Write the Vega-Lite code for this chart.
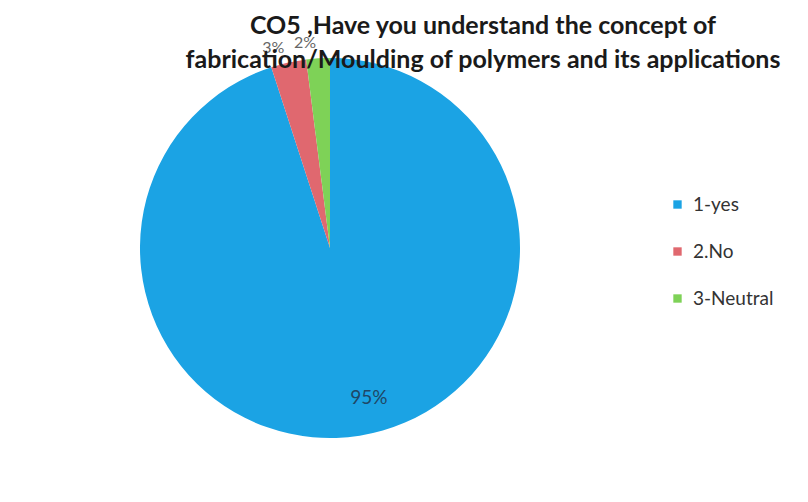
{
  "$schema": "https://vega.github.io/schema/vega-lite/v6.json",
  "width": 660,
  "height": 496,
  "autosize": "none",
  "padding": {"left": 0, "top": 0, "right": 148, "bottom": 6},
  "background": "white",
  "config": {"view": {"stroke": null}},
  "title": {
    "text": ["CO5 ,Have you understand the concept of", "fabrication/Moulding of polymers and its applications"],
    "anchor": "middle",
    "frame": "group",
    "font": "Lato",
    "fontSize": 25,
    "fontWeight": "bold",
    "color": "#1a1a1a",
    "lineHeight": 34,
    "baseline": "top",
    "dx": 153,
    "dy": 73,
    "offset": 0
  },
  "data": {
    "values": [
      {"answer": "1-yes", "value": 95, "label": "95%"},
      {"answer": "2.No", "value": 3, "label": "3%"},
      {"answer": "3-Neutral", "value": 2, "label": "2%"}
    ]
  },
  "encoding": {
    "theta": {"field": "value", "type": "quantitative", "stack": true},
    "order": {"field": "answer", "sort": "ascending"}
  },
  "layer": [
    {
      "mark": {"type": "arc", "outerRadius": 190},
      "encoding": {
        "color": {
          "field": "answer",
          "type": "nominal",
          "scale": {"domain": ["1-yes", "2.No", "3-Neutral"], "range": ["#1BA3E4", "#E0686F", "#7ED257"]},
          "legend": {
            "title": null,
            "orient": "none",
            "legendX": 668,
            "legendY": 195,
            "symbolType": "square",
            "symbolSize": 70,
            "labelFont": "Lato",
            "labelFontSize": 19,
            "labelColor": "#333333",
            "rowPadding": 27,
            "labelOffset": 6,
            "labelExpr": "datum.label == '1-yes' ? '\u00a0\u00a0\u00a01-yes' : datum.label"
          }
        }
      }
    },
    {
      "mark": {"type": "text", "radius": 152, "dx": 15, "font": "Lato", "fontSize": 19, "color": "#1F4766"},
      "encoding": {
        "text": {"condition": {"test": "datum.value > 50", "field": "label"}, "value": ""}
      }
    },
    {
      "mark": {"type": "text", "radius": 205, "dx": -12, "font": "Lato", "fontSize": 16, "color": "#666666"},
      "encoding": {
        "text": {"condition": {"test": "datum.value < 50", "field": "label"}, "value": ""}
      }
    }
  ]
}
